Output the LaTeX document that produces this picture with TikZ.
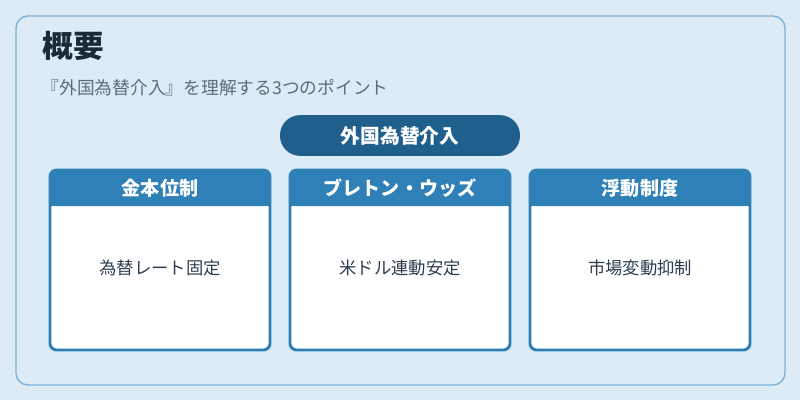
\documentclass[tikz,border=0pt]{standalone}
\usepackage{fontspec}
\setmainfont{Noto Sans CJK JP}
\definecolor{bgblue}{HTML}{DCEBF6}
\definecolor{edgeblue}{HTML}{7FB3D5}
\definecolor{pillblue}{HTML}{1F5F8B}
\definecolor{cardblue}{HTML}{2E80B6}
\definecolor{darktext}{HTML}{1B2A38}
\definecolor{graytext}{HTML}{5D6D7E}
\definecolor{bodytext}{HTML}{2C3E50}
\begin{document}
\begin{tikzpicture}[x=0.75pt,y=-0.75pt]
	\tikzset{panel/.style = {draw=edgeblue, fill=bgblue, line width=1.1pt, rounded corners=9pt}}
	\tikzset{pill/.style = {fill=pillblue, text=white, rounded corners=15pt, minimum width=180pt, minimum height=30.5pt, font=\bfseries\fontsize{14.8}{17}\selectfont}}
	\tikzset{cardbody/.style = {draw=cardblue, fill=white, line width=2.2pt, rounded corners=5pt}}
	\tikzset{cardhead/.style = {text=white, font=\bfseries\fontsize{14.3}{17}\selectfont}}
	\tikzset{cardtext/.style = {text=bodytext, font=\fontsize{13}{15}\selectfont}}

	\fill[bgblue] (0,0) rectangle (800,400);
	\draw[panel] (16,16) rectangle (785,385);

	\node[anchor=west, text=darktext, font=\bfseries\fontsize{23}{27}\selectfont] (title) at (38,46) {概要};
	\node[anchor=west, text=graytext, font=\fontsize{13.3}{16}\selectfont] (subtitle) at (37,88) {『外国為替介入』を理解する3つのポイント};

	\node[pill] (topic) at (400,135.5) {外国為替介入};

	\foreach \x/\head/\body [count=\i] in {50/金本位制/為替レート固定, 290/ブレトン・ウッズ/米ドル連動安定, 530/浮動制度/市場変動抑制}{
		\draw[cardbody] (\x,170) rectangle (\x+220,350);
		\fill[cardblue] (\x,206) [rounded corners=5pt] -- (\x,170) -- (\x+220,170) [sharp corners] -- (\x+220,206) -- cycle;
		\node[cardhead] (head\i) at (\x+110,188) {\head};
		\node[cardtext] (body\i) at (\x+110,268) {\body};
	}
\end{tikzpicture}
\end{document}
